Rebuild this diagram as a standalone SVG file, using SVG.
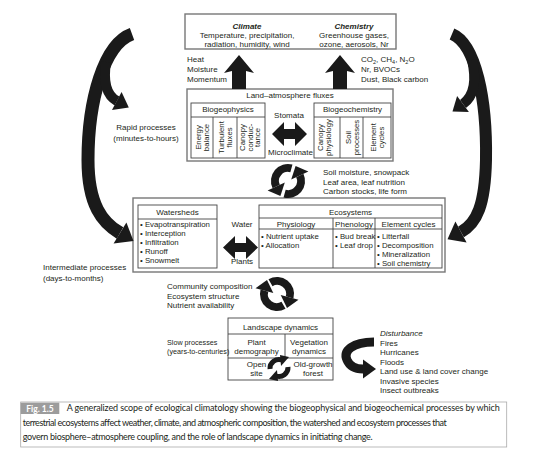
<svg xmlns="http://www.w3.org/2000/svg" width="535" height="452" viewBox="0 0 535 452">
<style>
text{font-family:"Liberation Sans",Arial,sans-serif;font-size:8px;fill:#231f20}
.c{text-anchor:middle}
.i{font-style:italic;font-weight:bold}
.li{font-size:7.8px}
.sm{font-size:7.2px}
.ob{fill:#fff;stroke:#777;stroke-width:1.4}
.ib{fill:none;stroke:#444;stroke-width:0.9}
.ln{stroke:#444;stroke-width:0.9;fill:none}
.band{fill:none;stroke:#1a1a1a;stroke-linecap:butt}
.hd{fill:#1a1a1a}
.rt{font-size:7.8px;text-anchor:middle}
.cap{font-family:Lato,"Open Sans",sans-serif;font-size:9px;fill:#231f20}
</style>
<rect width="535" height="452" fill="#fff"/>

<g id="climate-chemistry">
<rect class="ob" x="185" y="14" width="211" height="35"/>
<text class="c i" x="247" y="29">Climate</text>
<text class="c" x="247" y="37.8">Temperature, precipitation,</text>
<text class="c" x="247" y="46.6">radiation, humidity, wind</text>
<text class="c i" x="354" y="29">Chemistry</text>
<text class="c" x="354" y="37.8">Greenhouse gases,</text>
<text class="c" x="354" y="46.6">ozone, aerosols, Nr</text>
</g>

<g id="flux-labels">
<text x="187" y="62">Heat</text>
<text x="187" y="72">Moisture</text>
<text x="187" y="82">Momentum</text>
<text x="361" y="62">CO<tspan font-size="5.5" dy="2">2</tspan><tspan dy="-2">, CH</tspan><tspan font-size="5.5" dy="2">4</tspan><tspan dy="-2">, N</tspan><tspan font-size="5.5" dy="2">2</tspan><tspan dy="-2">O</tspan></text>
<text x="361" y="72">Nr, BVOCs</text>
<text x="361" y="82">Dust, Black carbon</text>
</g>

<g id="land-atmosphere-fluxes">
<rect class="ob" x="187" y="89" width="206" height="72"/>
<text class="c" x="290" y="98">Land–atmosphere fluxes</text>
<rect class="ib" x="191" y="103" width="74" height="55"/>
<line class="ln" x1="191" y1="117" x2="265" y2="117"/>
<line class="ln" x1="213" y1="117" x2="213" y2="158"/>
<line class="ln" x1="237" y1="117" x2="237" y2="158"/>
<text class="c" x="228" y="112">Biogeophysics</text>
<g transform="translate(202,137.5) rotate(-90)"><text class="rt" y="-1">Energy</text><text class="rt" y="7">balance</text></g>
<g transform="translate(225,137.5) rotate(-90)"><text class="rt" y="-1">Turbulent</text><text class="rt" y="7">fluxes</text></g>
<g transform="translate(249.5,137.5) rotate(-90)"><text class="rt" y="-4.5">Canopy</text><text class="rt" y="3">conduc-</text><text class="rt" y="10.5">tance</text></g>
<rect class="ib" x="314" y="103" width="77" height="55"/>
<line class="ln" x1="314" y1="117" x2="391" y2="117"/>
<line class="ln" x1="340" y1="117" x2="340" y2="158"/>
<line class="ln" x1="363" y1="117" x2="363" y2="158"/>
<text class="c" x="352.5" y="112">Biogeochemistry</text>
<g transform="translate(324,137.5) rotate(-90)"><text class="rt" y="-1">Canopy</text><text class="rt" y="7">physiology</text></g>
<g transform="translate(351.5,137.5) rotate(-90)"><text class="rt" y="-1">Soil</text><text class="rt" y="7">processes</text></g>
<g transform="translate(377,137.5) rotate(-90)"><text class="rt" y="-1">Element</text><text class="rt" y="7">cycles</text></g>
<text class="c" x="289" y="118">Stomata</text>
<text class="c" x="290.5" y="155">Microclimate</text>
</g>

<g id="watersheds-ecosystems">
<rect class="ob" x="133" y="198" width="312" height="74"/>
<rect class="ib" x="138" y="205" width="79" height="63"/>
<line class="ln" x1="138" y1="219" x2="217" y2="219"/>
<text class="c" x="177.5" y="215">Watersheds</text>
<text class="li" x="140" y="227">• Evapotranspiration</text>
<text class="li" x="140" y="236">• Interception</text>
<text class="li" x="140" y="245">• Infiltration</text>
<text class="li" x="140" y="254">• Runoff</text>
<text class="li" x="140" y="263">• Snowmelt</text>
<text class="c" x="242" y="227">Water</text>
<text class="c" x="242" y="264">Plants</text>
<rect class="ib" x="259" y="205" width="183" height="63"/>
<line class="ln" x1="259" y1="218" x2="442" y2="218"/>
<line class="ln" x1="259" y1="229" x2="442" y2="229"/>
<line class="ln" x1="333" y1="218" x2="333" y2="268"/>
<line class="ln" x1="375" y1="218" x2="375" y2="268"/>
<text class="c" x="350.5" y="215">Ecosystems</text>
<text class="c" x="296" y="227">Physiology</text>
<text class="c" x="354" y="227">Phenology</text>
<text class="c" x="408.5" y="227">Element cycles</text>
<text class="li" x="261" y="239">• Nutrient uptake</text>
<text class="li" x="261" y="248">• Allocation</text>
<text class="li" x="335" y="239">• Bud break</text>
<text class="li" x="335" y="248">• Leaf drop</text>
<text class="li" x="377" y="239">• Litterfall</text>
<text class="li" x="377" y="248">• Decomposition</text>
<text class="li" x="377" y="257">• Mineralization</text>
<text class="li" x="377" y="266">• Soil chemistry</text>
</g>

<g id="landscape-dynamics">
<rect class="ib" x="228" y="318" width="105" height="62" fill="#fff"/>
<line class="ln" x1="228" y1="334" x2="333" y2="334"/>
<line class="ln" x1="228" y1="358" x2="333" y2="358"/>
<line class="ln" x1="285" y1="334" x2="285" y2="358"/>
<text class="c" x="280.5" y="330">Landscape dynamics</text>
<text class="c" x="256.5" y="345">Plant</text>
<text class="c" x="256.5" y="354">demography</text>
<text class="c" x="309" y="345">Vegetation</text>
<text class="c" x="309" y="354">dynamics</text>
<text class="c" x="256.5" y="367">Open</text>
<text class="c" x="256.5" y="376">site</text>
<text class="c" x="313" y="367">Old-growth</text>
<text class="c" x="313" y="376">forest</text>
</g>

<g id="side-labels">
<text class="c" x="146" y="130">Rapid processes</text>
<text class="c" x="146" y="141">(minutes-to-hours)</text>
<text x="43" y="270">Intermediate processes</text>
<text x="43" y="281">(days-to-months)</text>
<text x="323" y="175">Soil moisture, snowpack</text>
<text x="323" y="184.5">Leaf area, leaf nutrition</text>
<text x="323" y="194">Carbon stocks, life form</text>
<text x="167" y="289">Community composition</text>
<text x="167" y="298.5">Ecosystem structure</text>
<text x="167" y="308">Nutrient availability</text>
<text class="sm" x="167" y="345">Slow processes</text>
<text class="sm" x="167" y="354">(years-to-centuries)</text>
</g>

<g id="disturbance">
<text x="380" y="336" font-style="italic">Disturbance</text>
<text x="380" y="345.5">Fires</text>
<text x="380" y="355">Hurricanes</text>
<text x="380" y="364.5">Floods</text>
<text x="380" y="374">Land use &amp; land cover change</text>
<text x="380" y="383.5">Invasive species</text>
<text x="380" y="393">Insect outbreaks</text>
</g>

<g id="connectors">
<polygon class="hd" points="239,55 254,73 246,71 246,89 232,89 232,71 224,73"/>
<polygon class="hd" points="340,55 355,73 347,71 347,89 333,89 333,71 325,73"/>
<polygon class="hd" points="272,134 284,122 284,129 295,129 295,122 307,134 295,146 295,139 284,139 284,146"/>
<polygon class="hd" points="223,247.5 235,236 235,243 246,243 246,236 258,247.5 246,259 246,252 235,252 235,259"/>
<path class="band" stroke-width="8" d="M291.4,168.4 A13,13 0 0 0 276.2,186.5"/>
<polygon class="hd" points="280.4,196 284.8,182.5 267.6,190.5"/>
<path class="band" stroke-width="8" d="M284.6,193.6 A13,13 0 0 0 299.8,175.5"/>
<polygon class="hd" points="295.6,166 308.4,171.5 291.2,179.5"/>
<path class="band" stroke-width="8" d="M283.5,305.3 A13,13 0 0 1 264.4,290.6"/>
<polygon class="hd" points="267,280 273.3,293 255.5,288.2"/>
<path class="band" stroke-width="8" d="M270.5,282.7 A13,13 0 0 1 289.6,297.4"/>
<polygon class="hd" points="287,308 298.5,299.8 280.7,295"/>
<path class="band" stroke-width="5" d="M270,369 A9,9 0 0 1 282,360"/>
<polygon class="hd" points="289,357 280,355 281,366"/>
<path class="band" stroke-width="5" d="M288,367 A9,9 0 0 1 276,376"/>
<polygon class="hd" points="269,379 278,381 277,370"/>
<path class="band" stroke-width="13" d="M132,34 C104,44 88,100 88,160 C88,205 102.6,223 120,233"/>
<polygon class="hd" points="133.5,241 113.6,243.6 126.4,222.4"/>
<path class="band" stroke-width="10" d="M106,62 C103,82 106,95 117,101"/>
<polygon class="hd" points="128.8,107.4 112,110 121.6,92"/>
<path class="band" stroke-width="12" d="M452,34 C476,44 487,100 486,160 C485,205 477,223 461,232"/>
<polygon class="hd" points="447.5,239.2 466.6,242.6 455.4,221.4"/>
<path class="band" stroke-width="10" d="M472,60 C477,82 474,96 463,104"/>
<polygon class="hd" points="452.5,111.6 468.9,112.1 457.1,95.9"/>
<path class="band" stroke-width="9" d="M374,342 C352,342 343,351 347,360 C350,367 356,369 363,369"/>
<polygon class="hd" points="376,369 363,378.5 363,359.5"/>
</g>

<g id="caption">
<rect x="20.7" y="402" width="486" height="45" fill="#fff" stroke="#aaa" stroke-width="0.8"/>
<rect x="20.7" y="402.7" width="38.6" height="11.3" fill="#9c9c9c"/>
<text x="40" y="411.6" text-anchor="middle" style="font-family:Lato,'Open Sans',sans-serif;font-size:8.5px;font-weight:bold;fill:#fff">Fig. 1.5</text>
<text class="cap" x="66.7" y="411" textLength="433">A generalized scope of ecological climatology showing the biogeophysical and biogeochemical processes by which</text>
<text class="cap" x="22.7" y="425.7" textLength="424">terrestrial ecosystems affect weather, climate, and atmospheric composition, the watershed and ecosystem processes that</text>
<text class="cap" x="22.7" y="439.5" textLength="350">govern biosphere–atmosphere coupling, and the role of landscape dynamics in initiating change.</text>
</g>
</svg>
